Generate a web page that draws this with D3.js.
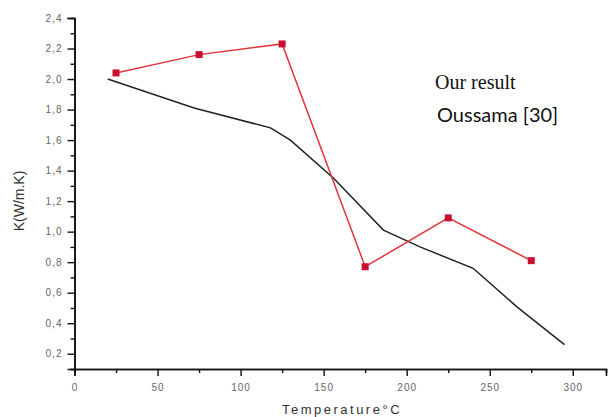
<!DOCTYPE html>
<html>
<head>
<meta charset="utf-8">
<script src="https://cdn.jsdelivr.net/npm/d3@7"></script>
<style>
  body { margin: 0; background: #fff; }
  svg { display: block; }
</style>
</head>
<body>
<div id="chart"></div>
<script>
// values
var ourTemp = [25, 75, 125, 175, 225, 275];
var ourK = [2.04, 2.16, 2.23, 0.77, 1.09, 0.81];

var refTemp = [20, 72, 118, 130, 156, 186, 208, 240, 266, 295];
var refK = [2.00, 1.81, 1.68, 1.60, 1.35, 1.01, 0.90, 0.76, 0.51, 0.26];

var xTicks = [0, 50, 100, 150, 200, 250, 300];
var yTicks = [0.2, 0.4, 0.6, 0.8, 1.0, 1.2, 1.4, 1.6, 1.8, 2.0, 2.2, 2.4];

var legendLabels = ["Our result", "Oussama [30]"];

var W = 609, H = 417;
var plotLeft = 74.5, plotRight = 606, plotTop = 18, plotBottom = 369;

var x = d3.scaleLinear().domain([0, 320]).range([plotLeft, plotRight]);
var y = d3.scaleLinear().domain([0.1, 2.4]).range([plotBottom, plotTop]);

var svg = d3.select("#chart").append("svg")
    .attr("width", W)
    .attr("height", H);

// y axis, ticks outward with minor ones in between
var yAxis = d3.axisLeft(y)
    .tickValues(yTicks)
    .tickSize(7)
    .tickPadding(5)
    .tickFormat(d => d3.format(".1f")(d).replace(".", ","));
var yMinor = d3.axisLeft(y)
    .tickValues(d3.range(0.1, 2.41, 0.2))
    .tickSize(4)
    .tickFormat("");

var xAxis = d3.axisBottom(x)
    .tickValues(xTicks)
    .tickSize(7)
    .tickPadding(8);
var xMinor = d3.axisBottom(x)
    .tickValues([25, 75, 125, 175, 225, 275])
    .tickSize(4)
    .tickFormat("");

function styleAxis(g) {
  g.select(".domain").attr("stroke", "#111").attr("stroke-width", 1.6);
  g.selectAll(".tick line").attr("stroke", "#111").attr("stroke-width", 1.4);
  g.selectAll(".tick text")
    .attr("fill", "#666")
    .style("font-family", "Liberation Sans, Arial, sans-serif")
    .style("font-size", "10px")
    .style("letter-spacing", "1px");
}

svg.append("g").attr("transform", "translate(" + plotLeft + ",0)").call(yMinor).call(styleAxis);
svg.append("g").attr("transform", "translate(" + plotLeft + ",0)").call(yAxis).call(styleAxis);
svg.append("g").attr("transform", "translate(0," + plotBottom + ")").call(xMinor).call(styleAxis);
svg.append("g").attr("transform", "translate(0," + plotBottom + ")").call(xAxis).call(styleAxis);

// axis titles
svg.append("text")
    .attr("transform", "translate(24,201) rotate(-90)")
    .attr("text-anchor", "middle")
    .attr("fill", "#333")
    .style("font-family", "Liberation Sans, Arial, sans-serif")
    .style("font-size", "14px")
    .text("K(W/m.K)");

svg.append("text")
    .attr("x", 342)
    .attr("y", 414)
    .attr("text-anchor", "middle")
    .attr("fill", "#333")
    .style("font-family", "Liberation Sans, Arial, sans-serif")
    .style("font-size", "13px")
    .style("letter-spacing", "2.5px")
    .text("Temperature°C");

var line = d3.line()
    .x(d => x(d[0]))
    .y(d => y(d[1]));

// reference curve (black)
svg.append("path")
    .datum(d3.zip(refTemp, refK))
    .attr("fill", "none")
    .attr("stroke", "#222")
    .attr("stroke-width", 1.5)
    .attr("d", line);

// our result (red with square markers)
var ours = d3.zip(ourTemp, ourK);
svg.append("path")
    .datum(ours)
    .attr("fill", "none")
    .attr("stroke", "#e3343c")
    .attr("stroke-width", 1.5)
    .attr("d", line);

svg.selectAll("rect.marker")
    .data(ours)
    .enter().append("rect")
      .attr("class", "marker")
      .attr("x", d => x(d[0]) - 3.5)
      .attr("y", d => y(d[1]) - 3.5)
      .attr("width", 7)
      .attr("height", 7)
      .attr("fill", "#c8102e");

// legend text
svg.append("text")
    .attr("x", 435)
    .attr("y", 89)
    .attr("fill", "#111")
    .style("font-family", "Liberation Serif, Times New Roman, serif")
    .style("font-size", "20px")
    .text(legendLabels[0]);

svg.append("text")
    .attr("x", 437)
    .attr("y", 122)
    .attr("fill", "#111")
    .style("font-family", "Lato, Noto Sans, sans-serif")
    .style("font-size", "20px")
    .text(legendLabels[1]);
</script>
</body>
</html>
